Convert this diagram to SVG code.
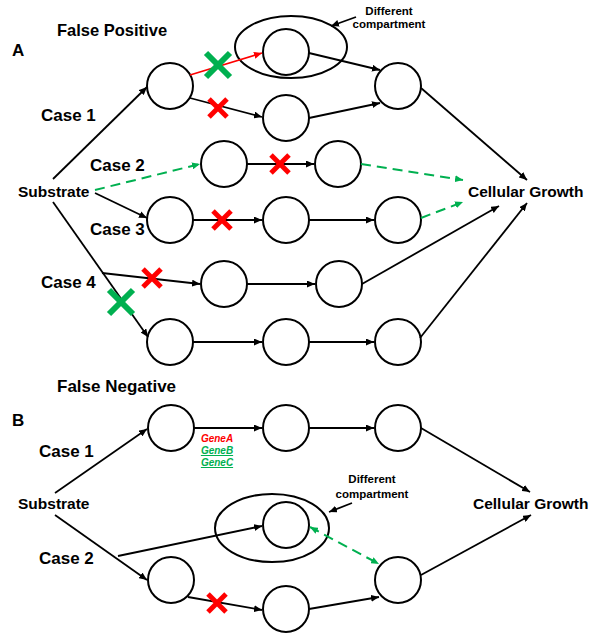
<svg xmlns="http://www.w3.org/2000/svg" width="600" height="634" viewBox="0 0 600 634">
<style>
text{font-family:"Liberation Sans",Arial,sans-serif;font-weight:bold;fill:#000}
.h{font-size:17px}
.s{font-size:15.5px}
.c{font-size:11.5px;text-anchor:middle}
.g{font-size:10px;font-style:italic;text-anchor:middle}
.node circle,.node ellipse{fill:none;stroke:#000;stroke-width:2}
.ln{fill:none;stroke:#000;stroke-width:1.8;marker-end:url(#ab)}
.red{fill:none;stroke:#ff0000;stroke-width:1.6;marker-end:url(#ar)}
.gd{fill:none;stroke:#00b050;stroke-width:2;stroke-dasharray:10,6;marker-end:url(#ag)}
.xr line{stroke:#ff0000;stroke-width:5}
.xg line{stroke:#00b050;stroke-width:6}
</style>
<defs>
<marker id="ab" markerUnits="userSpaceOnUse" markerWidth="9" markerHeight="7" refX="8" refY="3.5" orient="auto-start-reverse"><path d="M0,0 L8,3.5 L0,7 z" fill="#000"/></marker>
<marker id="ar" markerUnits="userSpaceOnUse" markerWidth="9" markerHeight="7" refX="8" refY="3.5" orient="auto"><path d="M0,0 L8,3.5 L0,7 z" fill="#ff0000"/></marker>
<marker id="ag" markerUnits="userSpaceOnUse" markerWidth="9" markerHeight="7" refX="8" refY="3.5" orient="auto-start-reverse"><path d="M0,0 L8,3.5 L0,7 z" fill="#00b050"/></marker>
</defs>
<rect width="600" height="634" fill="#fff"/>

<!-- Part A labels -->
<text class="h" x="12" y="56">A</text>
<text class="h" x="57" y="36" style="font-size:16.5px">False Positive</text>
<text class="h" x="41" y="121">Case 1</text>
<text class="h" x="90" y="171">Case 2</text>
<text class="h" x="90" y="235">Case 3</text>
<text class="h" x="41" y="288">Case 4</text>
<g id="substrateA"><text class="s" x="18" y="197">Substrate</text></g>
<g id="growthA"><text class="s" x="468" y="197">Cellular Growth</text></g>
<text class="c" x="389" y="15">Different</text>
<text class="c" x="389" y="28">compartment</text>

<!-- Part A nodes -->
<g id="a-compartment" class="node"><ellipse cx="291" cy="47" rx="56" ry="31"/></g>
<g id="a-n1" class="node"><circle cx="170" cy="86" r="23"/></g>
<g id="a-n2" class="node"><circle cx="286" cy="52" r="23"/></g>
<g id="a-n3" class="node"><circle cx="286" cy="118" r="23"/></g>
<g id="a-n4" class="node"><circle cx="398" cy="86" r="23"/></g>
<g id="a-n5" class="node"><circle cx="224" cy="164" r="23"/></g>
<g id="a-n6" class="node"><circle cx="338" cy="164" r="23"/></g>
<g id="a-n7" class="node"><circle cx="170" cy="220" r="23"/></g>
<g id="a-n8" class="node"><circle cx="286" cy="220" r="23"/></g>
<g id="a-n9" class="node"><circle cx="398" cy="220" r="23"/></g>
<g id="a-n10" class="node"><circle cx="224" cy="284" r="23"/></g>
<g id="a-n11" class="node"><circle cx="339" cy="284" r="23"/></g>
<g id="a-n12" class="node"><circle cx="170" cy="342" r="23"/></g>
<g id="a-n13" class="node"><circle cx="286" cy="342" r="23"/></g>
<g id="a-n14" class="node"><circle cx="398" cy="342" r="23"/></g>

<!-- Part B labels -->
<text class="h" x="57" y="392">False Negative</text>
<text class="h" x="12" y="426">B</text>
<text class="h" x="39" y="457">Case 1</text>
<text class="h" x="39" y="564">Case 2</text>
<g id="substrateB"><text class="s" x="18" y="509">Substrate</text></g>
<g id="growthB"><text class="s" x="473" y="509">Cellular Growth</text></g>
<text class="c" x="372" y="483">Different</text>
<text class="c" x="372" y="498">compartment</text>
<text class="g" x="217" y="442" style="fill:#ff0000">GeneA</text>
<text class="g" x="217" y="454" style="fill:#00b050" text-decoration="underline">GeneB</text>
<text class="g" x="217" y="466" style="fill:#00b050" text-decoration="underline">GeneC</text>

<!-- Part B nodes -->
<g id="b-n1" class="node"><circle cx="171" cy="428" r="23"/></g>
<g id="b-n2" class="node"><circle cx="286" cy="428" r="23"/></g>
<g id="b-n3" class="node"><circle cx="398" cy="428" r="23"/></g>
<g id="b-compartment" class="node"><ellipse cx="272" cy="528" rx="57" ry="34"/></g>
<g id="b-n4" class="node"><circle cx="286" cy="525" r="23"/></g>
<g id="b-n5" class="node"><circle cx="171" cy="580" r="23"/></g>
<g id="b-n6" class="node"><circle cx="286" cy="609" r="23"/></g>
<g id="b-n7" class="node"><circle cx="398" cy="580" r="23"/></g>

<!-- Connectors -->
<g id="connectors">
<path class="ln" d="M53,179 L147,87"/>
<path class="red" d="M190,75 L262,53"/>
<path class="ln" d="M190,98 L262,117"/>
<path class="ln" d="M309,53 L380,70"/>
<path class="ln" d="M309,118 L380,103"/>
<path class="ln" d="M421,88 L527,180"/>
<path class="ln" d="M356,17 L331,26"/>
<path class="gd" d="M95,190 L200,164"/>
<path class="ln" d="M247,164 L314,164"/>
<path class="gd" d="M361,164 L463,180"/>
<path class="ln" d="M95,193 L147,218"/>
<path class="ln" d="M193,220 L262,220"/>
<path class="ln" d="M309,220 L374,220"/>
<path class="gd" d="M421,218 L463,202"/>
<path class="ln" d="M53,202 L148,337"/>
<path class="ln" d="M102,273 L200,284"/>
<path class="ln" d="M247,284 L315,284"/>
<path class="ln" d="M362,284 L499,206"/>
<path class="ln" d="M193,342 L262,342"/>
<path class="ln" d="M309,342 L374,342"/>
<path class="ln" d="M420,338 L527,203"/>

<path class="ln" d="M55,493 L147,429"/>
<path class="ln" d="M194,428 L262,428"/>
<path class="ln" d="M309,428 L374,428"/>
<path class="ln" d="M421,428 L530,492"/>
<path class="ln" d="M55,515 L147,580"/>
<path class="ln" d="M118,556 L262,526"/>
<path class="ln" d="M188,597 L262,610"/>
<path class="ln" d="M309,609 L379,597"/>
<path class="gd" d="M310,527 L379,564" style="marker-start:url(#ag)"/>
<path class="ln" d="M421,575 L531,515"/>
<path class="ln" d="M352,503 L329,512"/>
</g>

<!-- X marks -->
<g class="xg"><line x1="206" y1="53" x2="230" y2="77"/><line x1="230" y1="53" x2="206" y2="77"/></g>
<g class="xr"><line x1="209" y1="99" x2="227" y2="117"/><line x1="227" y1="99" x2="209" y2="117"/></g>
<g class="xr"><line x1="271" y1="155" x2="289" y2="173"/><line x1="289" y1="155" x2="271" y2="173"/></g>
<g class="xr"><line x1="213" y1="211" x2="231" y2="229"/><line x1="231" y1="211" x2="213" y2="229"/></g>
<g class="xr"><line x1="143" y1="269" x2="161" y2="287"/><line x1="161" y1="269" x2="143" y2="287"/></g>
<g class="xg"><line x1="109" y1="290" x2="133" y2="314"/><line x1="133" y1="290" x2="109" y2="314"/></g>
<g class="xr"><line x1="208" y1="594" x2="226" y2="612"/><line x1="226" y1="594" x2="208" y2="612"/></g>
</svg>
